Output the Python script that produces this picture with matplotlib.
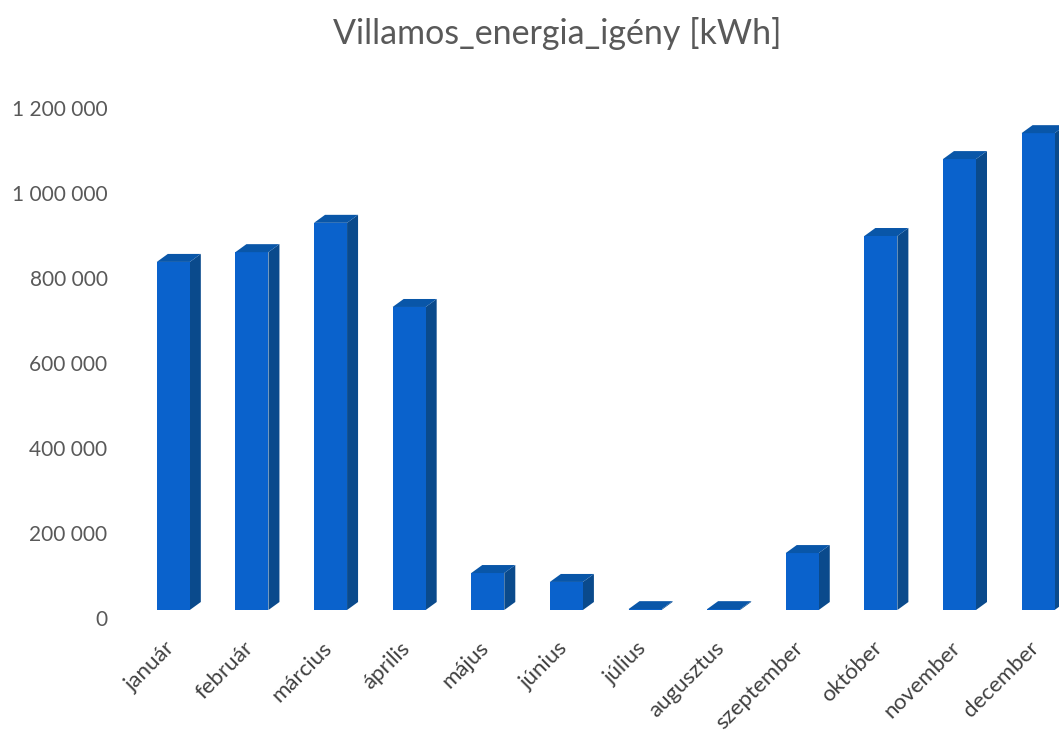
import numpy as np
import matplotlib
matplotlib.use("Agg")
import matplotlib.pyplot as plt
from matplotlib.patches import Polygon
from matplotlib.ticker import FuncFormatter
from matplotlib.transforms import ScaledTranslation

#  data
months = ["január", "február", "március", "április", "május", "június",
          "július", "augusztus", "szeptember", "október", "november", "december"]
demand_kwh = [819000, 842000, 911000, 713000, 87000, 66000,
              2000, 2000, 134000, 880000, 1061000, 1122000]
y_ticks = [0, 200000, 400000, 600000, 800000, 1000000, 1200000]
title = "Villamos_energia_igény [kWh]"

#  colours of the three visible faces
front_col = "#0a62cc"
top_col = "#0956a8"
side_col = "#0a4a8c"
text_col = "#595959"

plt.rcParams["font.family"] = ["Lato", "DejaVu Sans"]

fig = plt.figure(figsize=(10.59, 7.31), dpi=100)
W, H = 1059, 731
#  axes in pixel terms: x from 134 to 1059, y from 610 (zero) up to 78
ax = fig.add_axes([134 / W, (H - 610) / H, (1059 - 134) / W, (610 - 78.75) / H])

x = np.arange(len(months))
w = 0.42
dx = 0.14      # depth offset in category units
dy = 18800     # depth offset in kWh

ax.bar(x, demand_kwh, width=w, color=front_col, zorder=3)
for xi, v in zip(x, demand_kwh):
    l, r = xi - w / 2, xi + w / 2
    side = Polygon([(r, 0), (r + dx, dy), (r + dx, v + dy), (r, v)],
                   closed=True, facecolor=side_col, edgecolor="none", zorder=2,
                   clip_on=False)
    top = Polygon([(l, v), (l + dx, v + dy), (r + dx, v + dy), (r, v)],
                  closed=True, facecolor=top_col, edgecolor="none", zorder=4,
                  clip_on=False)
    ax.add_patch(side)
    ax.add_patch(top)

ax.set_xlim(-0.5, (1059 - 173.5) / 78.6)
ax.set_ylim(0, 1250000)

ax.set_yticks(y_ticks)
ax.yaxis.set_major_formatter(FuncFormatter(lambda v, p: "{:,}".format(int(v)).replace(",", " ")))
ax.tick_params(axis="y", length=0, pad=19, labelsize=15, labelcolor=text_col)
#  labels sit a little below the floor line in the reference
for lab in ax.get_yticklabels():
    lab.set_transform(lab.get_transform() + ScaledTranslation(0, -8 / 100, fig.dpi_scale_trans))

ax.set_xticks(x)
ax.set_xticklabels(months, rotation=45, ha="right", va="top",
                   rotation_mode="anchor", fontsize=16, color="#404040")
ax.tick_params(axis="x", length=0, pad=20)
for lab in ax.get_xticklabels():
    lab.set_transform(lab.get_transform() + ScaledTranslation(-9 / 100, 0, fig.dpi_scale_trans))

for s in ax.spines.values():
    s.set_visible(False)

fig.text(557 / W, 1 - 33 / H, title, ha="center", va="center",
         fontsize=24.5, color=text_col)

fig.savefig("out.png", dpi=100)
